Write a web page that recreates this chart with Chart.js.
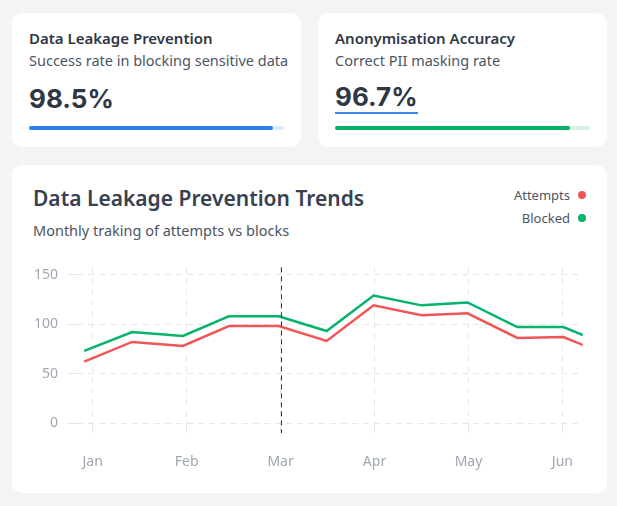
<!DOCTYPE html>
<html>
<head>
<meta charset="utf-8">
<script src="https://cdn.jsdelivr.net/npm/chart.js@4"></script>
<style>
  html, body { margin: 0; padding: 0; }
  body {
    width: 617px; height: 506px; background: #f3f4f6; position: relative;
    font-family: "Noto Sans", sans-serif; overflow: hidden;
  }
  .card { position: absolute; background: #fff; border-radius: 10px; }
  .k-title { position: absolute; left: 17px; top: 15px; font-size: 15px; font-weight: 600; color: #2f3746; white-space: nowrap; }
  .k-sub { position: absolute; left: 17px; top: 37px; font-size: 14.5px; color: #4b5563; white-space: nowrap; }
  .k-num { position: absolute; left: 17px; top: 69px; font-family: Inter, sans-serif; font-size: 26px; font-weight: 700; color: #2f3746; line-height: 34px; }
  .k-num.under { border-bottom: 2px solid #3b86e8; line-height: 30px; }
  .track { position: absolute; left: 17px; top: 113px; width: 255px; height: 4px; border-radius: 2px; }
  .fill { height: 4px; border-radius: 2px; }
  .c-title { position: absolute; left: 21px; top: 19px; font-size: 21px; font-weight: 600; color: #374151; white-space: nowrap; }
  .c-sub { position: absolute; left: 21px; top: 55px; font-size: 14.5px; color: #4b5563; white-space: nowrap; }
  .legend { position: absolute; right: 21px; top: 19px; font-size: 13px; color: #4b5563; text-align: right; }
  .legend div { height: 23px; line-height: 23px; }
  .legend span.dot { display: inline-block; width: 8px; height: 8px; border-radius: 50%; margin-left: 8px; vertical-align: 1px; }
  #box { position: absolute; left: 20px; top: 85px; width: 562px; height: 230px; }
</style>
</head>
<body>
  <div class="card" style="left:12px;top:13px;width:289px;height:134px;">
    <div class="k-title">Data Leakage Prevention</div>
    <div class="k-sub">Success rate in blocking sensitive data</div>
    <div class="k-num">98.5%</div>
    <div class="track" style="background:#dbeafe;"><div class="fill" style="width:95.5%;background:#2b7ff3;"></div></div>
  </div>
  <div class="card" style="left:318px;top:13px;width:289px;height:134px;">
    <div class="k-title">Anonymisation Accuracy</div>
    <div class="k-sub">Correct PII masking rate</div>
    <div class="k-num under">96.7%</div>
    <div class="track" style="background:#d5f3e5;"><div class="fill" style="width:92.2%;background:#05b36b;"></div></div>
  </div>
  <div class="card" style="left:12px;top:165px;width:595px;height:328px;">
    <div class="c-title">Data Leakage Prevention Trends</div>
    <div class="c-sub">Monthly traking of attempts vs blocks</div>
    <div class="legend">
      <div>Attempts<span class="dot" style="background:#f05656;"></span></div>
      <div>Blocked<span class="dot" style="background:#05b36b;"></span></div>
    </div>
    <div id="box"><canvas id="trend"></canvas></div>
  </div>

<script>
// x axis month ticks
const monthLabels = ['Jan', 'Feb', 'Mar', 'Apr', 'May', 'Jun'];
const yTicks = [0, 50, 100, 150];
// sample positions, in months after Jan
const pointMonths = [-0.09, 0.42, 0.96, 1.45, 1.98, 2.49, 2.99, 3.5, 3.99, 4.52, 5.01, 5.5];
const attempts = [62, 82, 78, 98, 98, 83, 119, 109, 111, 86, 87, 68];
const blocked = [73, 92, 88, 108, 108, 93, 129, 119, 122, 97, 97, 78];
const highlightMonth = 'Mar';

const toPoints = vals => vals.map((v, i) => ({ x: pointMonths[i], y: v }));

/* dashed marker line on the highlighted month */
const markerLine = {
  id: 'markerLine',
  afterDatasetsDraw(chart) {
    const x = chart.scales.x.getPixelForValue(monthLabels.indexOf(highlightMonth));
    const { top, bottom } = chart.chartArea;
    const ctx = chart.ctx;
    ctx.save();
    ctx.strokeStyle = '#2a3142';
    ctx.lineWidth = 1;
    ctx.setLineDash([5, 4]);
    ctx.beginPath();
    ctx.moveTo(Math.round(x) + 0.5, top);
    ctx.lineTo(Math.round(x) + 0.5, bottom + 10);
    ctx.stroke();
    ctx.restore();
  }
};

const gridStyle = {
  color: '#e5e7eb',
  lineWidth: 1,
  tickLength: 10,
  tickColor: '#e5e7eb'
};

new Chart(document.getElementById('trend'), {
  type: 'line',
  data: {
    datasets: [
      { label: 'Attempts', data: toPoints(attempts), borderColor: '#f05656', borderWidth: 2.5, pointRadius: 0, tension: 0 },
      { label: 'Blocked', data: toPoints(blocked), borderColor: '#05b36b', borderWidth: 2.5, pointRadius: 0, tension: 0 }
    ]
  },
  options: {
    responsive: true,
    maintainAspectRatio: false,
    animation: false,
    layout: { padding: { top: 17, right: 0, bottom: 0, left: 0 } },
    plugins: { legend: { display: false }, tooltip: { enabled: false } },
    scales: {
      x: {
        type: 'linear',
        min: -0.167,
        max: 5.216,
        border: { display: false, dash: [6, 5] },
        grid: gridStyle,
        afterBuildTicks: s => { s.ticks = monthLabels.map((_, i) => ({ value: i })); },
        afterFit: s => { s.height = 57; },
        ticks: {
          padding: 21,
          color: '#a0a6b1',
          font: { family: 'Noto Sans', size: 14 },
          maxRotation: 0,
          autoSkip: false,
          callback: v => monthLabels[v]
        }
      },
      y: {
        min: 0,
        max: 157.4,
        border: { display: false, dash: [6, 5] },
        grid: gridStyle,
        afterBuildTicks: s => { s.ticks = yTicks.map(v => ({ value: v })); },
        afterFit: s => { s.width = 45; },
        ticks: {
          padding: 9,
          color: '#a0a6b1',
          font: { family: 'Noto Sans', size: 14 }
        }
      }
    }
  },
  plugins: [markerLine]
});
</script>
</body>
</html>
